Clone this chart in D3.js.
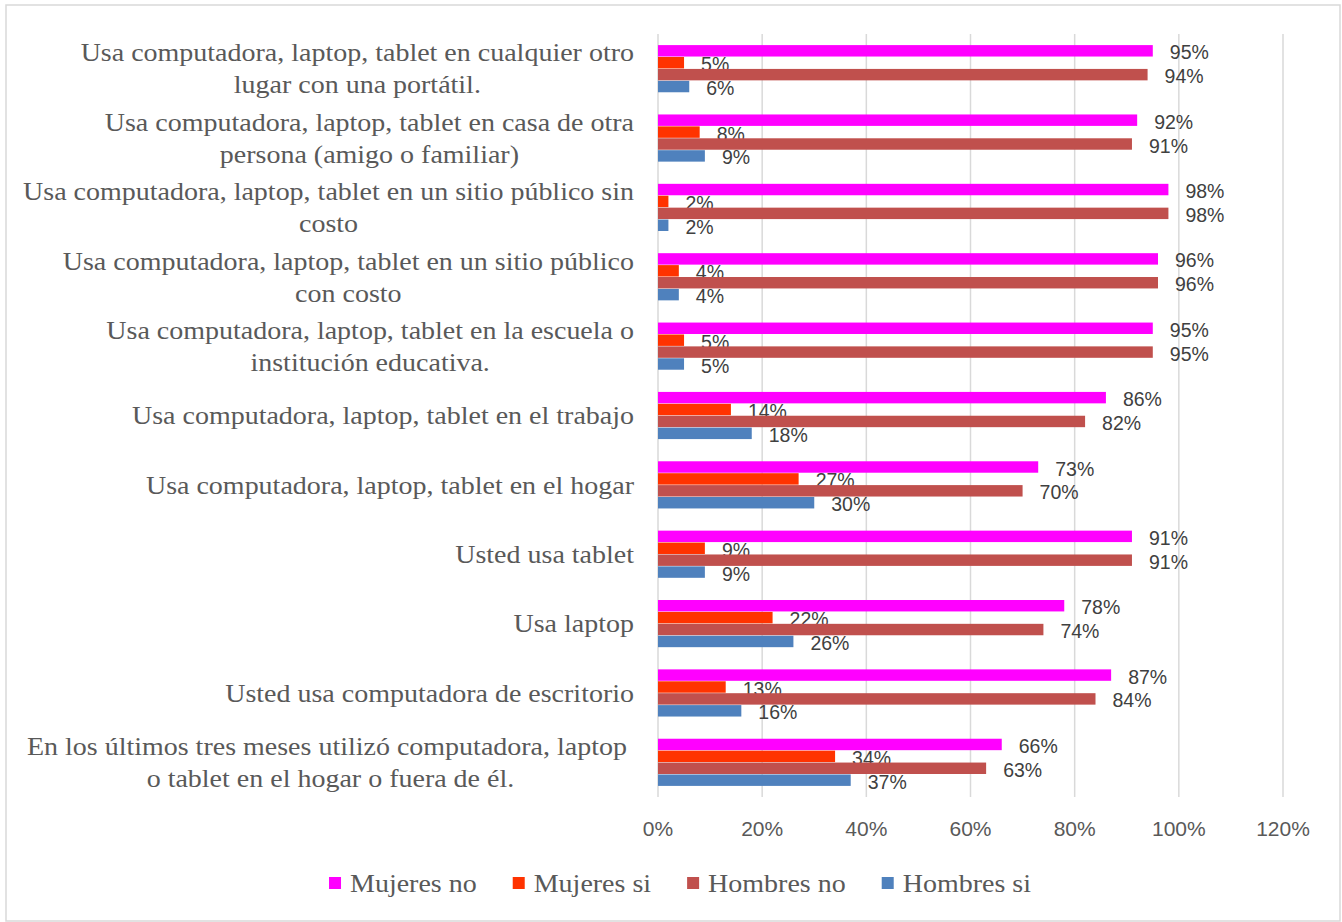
<!DOCTYPE html>
<html>
<head>
<meta charset="utf-8">
<script src="https://cdn.jsdelivr.net/npm/d3@7"></script>
<style>
  body { margin: 0; background: #fff; }
</style>
</head>
<body>
<script>
// categorias (de arriba hacia abajo), cada una con sus lineas de texto
var categorias = [
    ["Usa computadora, laptop, tablet en cualquier otro", "lugar con una portátil."],
    ["Usa computadora, laptop, tablet en casa de otra", "persona (amigo o familiar)"],
    ["Usa computadora, laptop, tablet en un sitio público sin", "costo"],
    ["Usa computadora, laptop, tablet en un sitio público", "con costo"],
    ["Usa computadora, laptop, tablet en la escuela o", "institución educativa."],
    ["Usa computadora, laptop, tablet en el trabajo"],
    ["Usa computadora, laptop, tablet en el hogar"],
    ["Usted usa tablet"],
    ["Usa laptop"],
    ["Usted usa computadora de escritorio"],
    ["En los últimos tres meses utilizó computadora, laptop ", "o tablet en el hogar o fuera de él."]
];

var series = ["Mujeres no", "Mujeres si", "Hombres no", "Hombres si"];
var kleuren = ["#FF00FF", "#FF3300", "#C0504D", "#4F81BD"];

var mujeresNo = [0.95, 0.92, 0.98, 0.96, 0.95, 0.86, 0.73, 0.91, 0.78, 0.87, 0.66];
var mujeresSi = [0.05, 0.08, 0.02, 0.04, 0.05, 0.14, 0.27, 0.09, 0.22, 0.13, 0.34];
var hombresNo = [0.94, 0.91, 0.98, 0.96, 0.95, 0.82, 0.70, 0.91, 0.74, 0.84, 0.63];
var hombresSi = [0.06, 0.09, 0.02, 0.04, 0.05, 0.18, 0.30, 0.09, 0.26, 0.16, 0.37];

var ticks = [0, 0.2, 0.4, 0.6, 0.8, 1.0, 1.2];

var W = 1342, H = 922;
var serif = "'Liberation Serif', 'Times New Roman', serif";
var sans = "'Liberation Sans', Arial, sans-serif";
var sx = 1.12; // horizontale rek van de serif teksten

var svg = d3.select("body").append("svg")
    .attr("width", W)
    .attr("height", H);

// rand om de grafiek
svg.append("rect")
    .attr("x", 6).attr("y", 5)
    .attr("width", 1334).attr("height", 916)
    .attr("fill", "#fff")
    .attr("stroke", "#D9D9D9")
    .attr("stroke-width", 1.5);

var x = d3.scaleLinear().domain([0, 1.2]).range([658, 1283]);

var idx = d3.range(categorias.length);
var y = d3.scaleBand().domain(idx).range([34, 797]).paddingInner(0.32).paddingOuter(0.16);
var y1 = d3.scaleBand().domain(series).range([0, y.bandwidth()]).paddingInner(0.04);

var waarden = [mujeresNo, mujeresSi, hombresNo, hombresSi];

// rasterlijnen
svg.append("g").selectAll("line")
    .data(ticks)
    .enter().append("line")
    .attr("x1", function (d) { return x(d); })
    .attr("x2", function (d) { return x(d); })
    .attr("y1", 34)
    .attr("y2", 797)
    .attr("stroke", "#D9D9D9")
    .attr("stroke-width", 1.5);

// as labels
svg.append("g").selectAll("text")
    .data(ticks)
    .enter().append("text")
    .attr("x", function (d) { return x(d); })
    .attr("y", 829)
    .attr("dy", "0.35em")
    .attr("text-anchor", "middle")
    .attr("font-family", sans)
    .attr("font-size", 21)
    .attr("fill", "#595959")
    .text(function (d) { return d3.format(".0%")(d); });

// balken per serie
var groep = svg.append("g").selectAll("g")
    .data(series)
    .enter().append("g")
    .attr("fill", function (d, i) { return kleuren[i]; });

groep.selectAll("rect")
    .data(function (s, si) { return idx.map(function (i) { return { s: s, i: i, v: waarden[si][i] }; }); })
    .enter().append("rect")
    .attr("x", x(0))
    .attr("y", function (d) { return y(d.i) + y1(d.s); })
    .attr("width", function (d) { return x(d.v) - x(0); })
    .attr("height", y1.bandwidth());

groep.selectAll("text")
    .data(function (s, si) { return idx.map(function (i) { return { s: s, i: i, v: waarden[si][i] }; }); })
    .enter().append("text")
    .attr("x", function (d) { return x(d.v) + 17; })
    .attr("y", function (d) { return y(d.i) + y1(d.s) + y1.bandwidth() / 2 + 1.7; })
    .attr("dy", "0.35em")
    .attr("font-family", sans)
    .attr("font-size", 19.5)
    .attr("fill", "#404040")
    .text(function (d) { return d3.format(".0%")(d.v); });

// categorie labels, rechts uitgelijnd blok met gecentreerde regels
var cat = svg.append("g").selectAll("g")
    .data(idx)
    .enter().append("g")
    .attr("transform", function (i) {
        return "translate(634," + (y(i) + y.bandwidth() / 2) + ") scale(" + sx + ",1)";
    });

cat.each(function (i) {
    var g = d3.select(this);
    var lines = categorias[i];
    var t = g.selectAll("text")
        .data(lines)
        .enter().append("text")
        .attr("y", function (d, k) { return (k - (lines.length - 1) / 2) * 32; })
        .attr("dy", "0.35em")
        .attr("text-anchor", "middle")
        .attr("font-family", serif)
        .attr("font-size", 25)
        .attr("fill", "#595959")
        .style("white-space", "pre")
        .text(function (d) { return d; });
    var maxW = 0;
    t.each(function () { maxW = Math.max(maxW, this.getComputedTextLength()); });
    t.attr("x", -maxW / 2);
});

// legenda
var legenda = svg.append("g");
var posX = 0;
series.forEach(function (s, i) {
    var item = legenda.append("g").attr("transform", "translate(" + posX + ",0)");
    item.append("rect")
        .attr("x", 0).attr("y", -6)
        .attr("width", 12).attr("height", 12)
        .attr("fill", kleuren[i]);
    var tx = item.append("text")
        .attr("transform", "translate(21,0) scale(" + sx + ",1)")
        .attr("dy", "0.35em")
        .attr("font-family", serif)
        .attr("font-size", 25)
        .attr("fill", "#595959")
        .text(s);
    posX += 21 + tx.node().getComputedTextLength() * sx + 36;
});
var totaal = posX - 36;
legenda.attr("transform", "translate(" + (680 - totaal / 2) + ",883)");
</script>
</body>
</html>
